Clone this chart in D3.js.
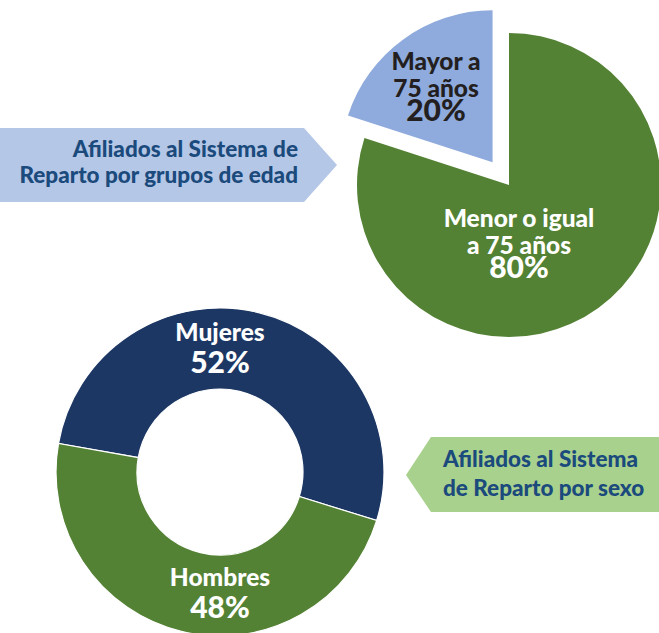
<!DOCTYPE html>
<html>
<head>
<meta charset="utf-8">
<script src="https://cdn.jsdelivr.net/npm/d3@7"></script>
<style>
  html, body { margin: 0; padding: 0; background: #fff; }
  svg { display: block; font-family: Lato, "Open Sans", sans-serif; font-weight: 900; }
</style>
</head>
<body>
<svg id="chart" width="659" height="633"></svg>
<script>
// Age groups (top pie)
const ageLabels = [['Menor o igual', 'a 75 años'], ['Mayor a', '75 años']];
const ageValues = [80, 20];
const ageColors = ['#548235', '#8faadc'];
const ageText = ['#ffffff', '#231f20'];

// Sex (bottom donut)
const sexLabels = ['Mujeres', 'Hombres'];
const sexValues = [52, 48];
const sexColors = ['#1d3764', '#548235'];

const titleAge = ['Afiliados al Sistema de', 'Reparto por grupos de edad'];
const titleSex = ['Afiliados al Sistema', 'de Reparto por sexo'];

const svg = d3.select('#chart');

// --- Banners
const bannerAge = [[0, 128], [304, 128], [337, 165], [304, 202], [0, 202]];
svg.append('polygon')
  .attr('points', bannerAge.map(p => p.join(',')).join(' '))
  .attr('fill', '#b4c7e7');
svg.append('g').selectAll('text')
  .data(titleAge)
  .join('text')
  .attr('x', 298)
  .attr('y', (d, i) => 157 + i * 26)
  .attr('text-anchor', 'end')
  .attr('font-size', 22.5)
  .attr('fill', '#1b4a7c')
  .text(d => d);

const bannerSex = [[406, 475], [431, 437], [659, 437], [659, 512], [431, 512]];
svg.append('polygon')
  .attr('points', bannerSex.map(p => p.join(',')).join(' '))
  .attr('fill', '#a9d18e');
svg.append('g').selectAll('text')
  .data(titleSex)
  .join('text')
  .attr('x', 443)
  .attr('y', (d, i) => 467 + i * 29)
  .attr('text-anchor', 'start')
  .attr('font-size', 22.5)
  .attr('fill', '#1b4a7c')
  .text(d => d);

// --- Top pie (exploded smaller slice)
const pieR = 152;
const pieG = svg.append('g').attr('transform', 'translate(509,185)');
const agePie = d3.pie().sort(null)(ageValues);
const ageArc = d3.arc().innerRadius(0).outerRadius(pieR);
const explode = [0, 28];

pieG.selectAll('path')
  .data(agePie)
  .join('path')
  .attr('transform', (d, i) => {
    const a = (d.startAngle + d.endAngle) / 2;
    return `translate(${Math.sin(a) * explode[i]},${-Math.cos(a) * explode[i]})`;
  })
  .attr('d', ageArc)
  .attr('fill', (d, i) => ageColors[i]);

// label anchors relative to pie centre (x, first baseline)
const ageLabelPos = [[10, 42], [-73, -115]];
agePie.forEach((d, i) => {
  const g = pieG.append('g')
    .attr('transform', `translate(${ageLabelPos[i][0]},${ageLabelPos[i][1]})`)
    .attr('fill', ageText[i])
    .attr('text-anchor', 'middle');
  g.selectAll('text.l')
    .data(ageLabels[i])
    .join('text')
    .attr('class', 'l')
    .attr('y', (t, j) => j * 26.5)
    .attr('font-size', 24.5)
    .text(t => t);
  g.append('text')
    .attr('y', 51)
    .attr('font-size', 30)
    .text(ageValues[i] + '%');
});

// --- Bottom donut
const donutG = svg.append('g').attr('transform', 'translate(220,472)');
const startA = -80 * Math.PI / 180;
const sexPie = d3.pie().sort(null)
  .startAngle(startA)
  .endAngle(startA + 2 * Math.PI)(sexValues);
const sexArc = d3.arc().innerRadius(83).outerRadius(164);

donutG.selectAll('path')
  .data(sexPie)
  .join('path')
  .attr('d', sexArc)
  .attr('fill', (d, i) => sexColors[i])
  .attr('stroke', '#fff')
  .attr('stroke-width', 1.2);

const sexLabelY = [[-131, -99], [114, 146]];
sexPie.forEach((d, i) => {
  donutG.append('text')
    .attr('x', 0)
    .attr('y', sexLabelY[i][0])
    .attr('text-anchor', 'middle')
    .attr('font-size', 24.5)
    .attr('fill', '#fff')
    .text(sexLabels[i]);
  donutG.append('text')
    .attr('x', 0)
    .attr('y', sexLabelY[i][1])
    .attr('text-anchor', 'middle')
    .attr('font-size', 30)
    .attr('fill', '#fff')
    .text(sexValues[i] + '%');
});
</script>
</body>
</html>
